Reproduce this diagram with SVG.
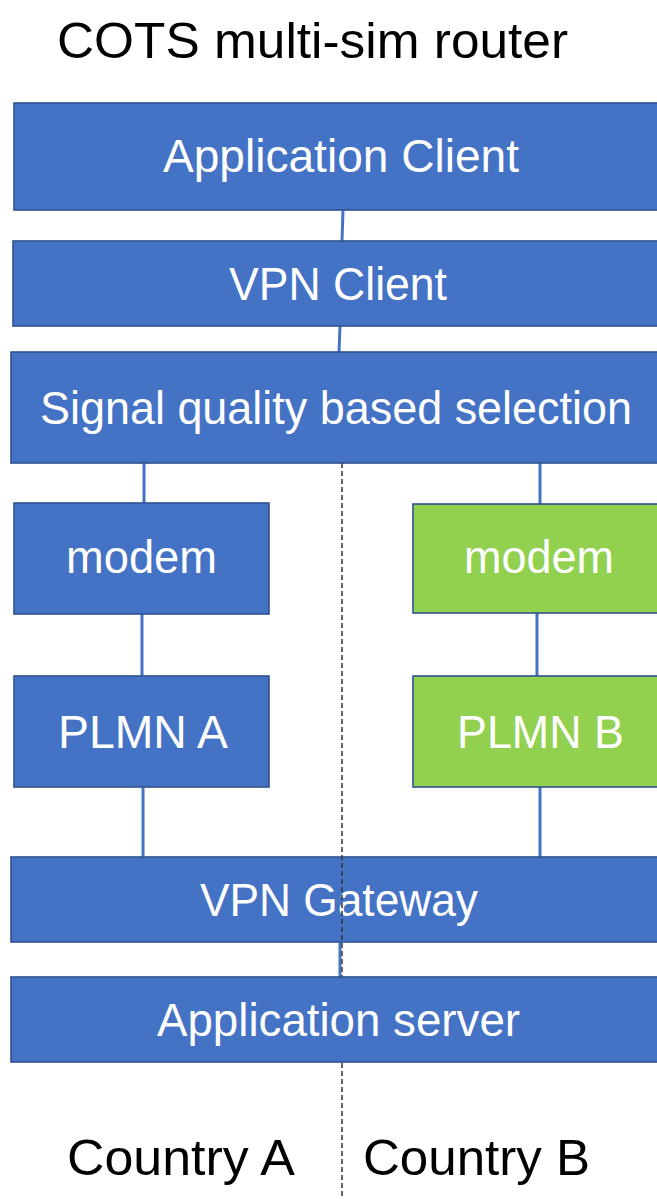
<svg xmlns="http://www.w3.org/2000/svg" width="657" height="1199" viewBox="0 0 657 1199">
  <style>
    .box { fill: #4472C4; stroke: #2F528F; stroke-width: 1.6; }
    .box.green { fill: #92D050; }
    .lbl { fill: #FFFFFF; font-family: "Liberation Sans", Arial, sans-serif; font-size: 46px; }
    .cap { fill: #000000; font-family: "Liberation Sans", Arial, sans-serif; font-size: 50px; }
    .link { stroke: #4472C4; stroke-width: 3; fill: none; }
    .divider { stroke: #333333; stroke-width: 1.5; stroke-dasharray: 5 3; fill: none; }
  </style>
  <rect width="657" height="1199" fill="#FFFFFF"/>

  <text id="title" class="cap" x="57" y="58" textLength="511" lengthAdjust="spacingAndGlyphs">COTS multi-sim router</text>

  <!-- connectors between the stacked layers -->
  <g id="connectors">
    <line class="link" x1="343" y1="210" x2="342" y2="241"/>
    <line class="link" x1="340" y1="326" x2="339" y2="352"/>
    <line class="link" x1="144" y1="463" x2="144" y2="503"/>
    <line class="link" x1="540" y1="463" x2="540" y2="504"/>
    <line class="link" x1="142" y1="614" x2="142" y2="676"/>
    <line class="link" x1="537" y1="613" x2="537" y2="676"/>
    <line class="link" x1="143" y1="787" x2="143" y2="857"/>
    <line class="link" x1="540" y1="787" x2="540" y2="857"/>
    <line class="link" x1="340" y1="942" x2="340" y2="977"/>
  </g>

  <g id="app-client">
    <rect class="box" x="14" y="103" width="700" height="107"/>
    <text class="lbl" x="163" y="172" textLength="356" lengthAdjust="spacingAndGlyphs">Application Client</text>
  </g>

  <g id="vpn-client">
    <rect class="box" x="13" y="241" width="700" height="85"/>
    <text class="lbl" x="229" y="300" textLength="218" lengthAdjust="spacingAndGlyphs">VPN Client</text>
  </g>

  <g id="selection">
    <rect class="box" x="11" y="352" width="700" height="111"/>
    <text class="lbl" x="40" y="424" textLength="592" lengthAdjust="spacingAndGlyphs">Signal quality based selection</text>
  </g>

  <g id="modem-a">
    <rect class="box" x="14" y="503" width="255" height="111"/>
    <text class="lbl" x="66" y="573" textLength="151" lengthAdjust="spacingAndGlyphs">modem</text>
  </g>

  <g id="modem-b">
    <rect class="box green" x="413" y="504" width="300" height="109"/>
    <text class="lbl" x="464" y="573" textLength="150" lengthAdjust="spacingAndGlyphs">modem</text>
  </g>

  <g id="plmn-a">
    <rect class="box" x="14" y="676" width="255" height="111"/>
    <text class="lbl" x="58" y="748" textLength="170" lengthAdjust="spacingAndGlyphs">PLMN A</text>
  </g>

  <g id="plmn-b">
    <rect class="box green" x="413" y="676" width="300" height="111"/>
    <text class="lbl" x="457" y="748" textLength="167" lengthAdjust="spacingAndGlyphs">PLMN B</text>
  </g>

  <g id="vpn-gateway">
    <rect class="box" x="11" y="857" width="700" height="85"/>
    <text class="lbl" x="200" y="916" textLength="278" lengthAdjust="spacingAndGlyphs">VPN Gateway</text>
  </g>

  <!-- country border -->
  <g id="border">
    <line class="divider" x1="342" y1="463" x2="342" y2="1199"/>
  </g>

  <g id="app-server">
    <rect class="box" x="11" y="977" width="700" height="85"/>
    <text class="lbl" x="157" y="1036" textLength="363" lengthAdjust="spacingAndGlyphs">Application server</text>
  </g>

  <text id="country-a" class="cap" x="67" y="1175" textLength="228" lengthAdjust="spacingAndGlyphs">Country A</text>
  <text id="country-b" class="cap" x="363" y="1175" textLength="227" lengthAdjust="spacingAndGlyphs">Country B</text>
</svg>
